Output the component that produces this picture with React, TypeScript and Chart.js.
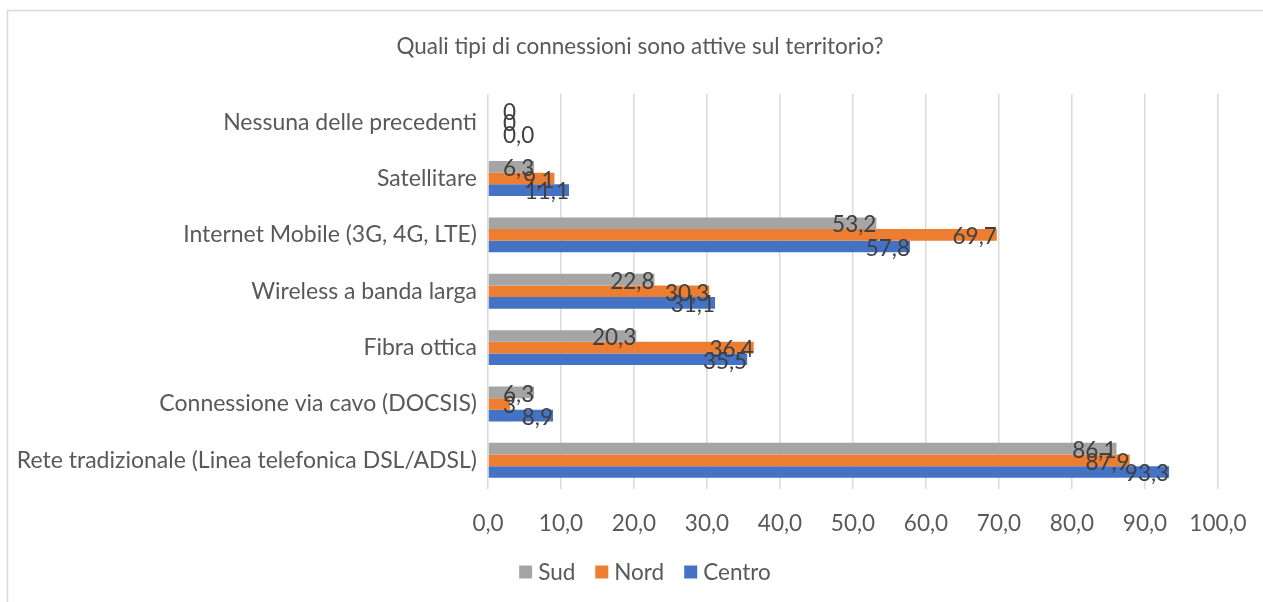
import React, { useEffect, useRef } from "react";
import { Chart, registerables } from "chart.js";

Chart.register(...registerables);

const categories = [
  "Nessuna delle precedenti",
  "Satellitare",
  "Internet Mobile (3G, 4G, LTE)",
  "Wireless a banda larga",
  "Fibra ottica",
  "Connessione via cavo (DOCSIS)",
  "Rete tradizionale (Linea telefonica DSL/ADSL)",
];

const sudValues = [0, 6.3, 53.2, 22.8, 20.3, 6.3, 86.1];
const nordValues = [0, 9.1, 69.7, 30.3, 36.4, 3, 87.9];
const centroValues = [0, 11.1, 57.8, 31.1, 35.5, 8.9, 93.3];

const sudLabels = ["0", "6,3", "53,2", "22,8", "20,3", "6,3", "86,1"];
const nordLabels = ["0", "9,1", "69,7", "30,3", "36,4", "3", "87,9"];
const centroLabels = ["0,0", "11,1", "57,8", "31,1", "35,5", "8,9", "93,3"];

const xTicks = [0, 10, 20, 30, 40, 50, 60, 70, 80, 90, 100];

const TITLE = "Quali tipi di connessioni sono attive sul territorio?";

const FONT = "Lato";
const FS = 22.5;

const labelPlugin = {
  id: "valueLabels",
  afterDatasetsDraw(chart: any) {
    const ctx = chart.ctx;
    const base = chart.scales.x.getPixelForValue(0);
    ctx.save();
    ctx.font = `${FS}px ${FONT}`;
    ctx.fillStyle = "#404040";
    ctx.textAlign = "right";
    ctx.textBaseline = "middle";
    chart.data.datasets.forEach((ds: any, di: number) => {
      const meta = chart.getDatasetMeta(di);
      meta.data.forEach((bar: any, i: number) => {
        const txt = ds.valueLabels[i];
        const w = ctx.measureText(txt).width;
        const x = Math.max(bar.x, base + 15 + w);
        ctx.fillText(txt, x, bar.y + 2);
      });
    });
    ctx.restore();
  },
};

const framePlugin = {
  id: "frameTitleLegend",
  beforeDraw(chart: any) {
    const ctx = chart.ctx;
    ctx.save();
    ctx.strokeStyle = "#D9D9D9";
    ctx.lineWidth = 1.5;
    ctx.beginPath();
    ctx.moveTo(7.5, chart.height + 5);
    ctx.lineTo(7.5, 10.5);
    ctx.lineTo(chart.width + 5, 10.5);
    ctx.stroke();
    ctx.restore();
  },
  afterDraw(chart: any) {
    const ctx = chart.ctx;
    ctx.save();
    ctx.font = `${FS}px ${FONT}`;
    ctx.fillStyle = "#595959";
    ctx.textBaseline = "middle";
    ctx.textAlign = "center";
    ctx.fillText(TITLE, 640, 47);

    // legend
    const box = 13;
    const gapText = 6;
    const gapItem = 20;
    const items = chart.data.datasets.map((ds: any) => ({
      label: ds.label,
      color: ds.backgroundColor,
      w: ctx.measureText(ds.label).width,
    }));
    const total =
      items.reduce((s: number, it: any) => s + box + gapText + it.w, 0) +
      gapItem * (items.length - 1);
    let x = 645 - total / 2;
    const cy = 572;
    ctx.textAlign = "left";
    items.forEach((it: any) => {
      ctx.fillStyle = it.color;
      ctx.fillRect(x, cy - box / 2, box, box);
      ctx.fillStyle = "#595959";
      ctx.fillText(it.label, x + box + gapText, cy + 1);
      x += box + gapText + it.w + gapItem;
    });
    ctx.restore();
  },
};

export default function App() {
  const ref = useRef<HTMLCanvasElement | null>(null);

  useEffect(() => {
    document.body.style.margin = "0";
    const canvas = ref.current;
    if (!canvas) return;
    const chart = new Chart(canvas, {
      type: "bar",
      data: {
        labels: categories,
        datasets: [
          { label: "Sud", data: sudValues, backgroundColor: "#A5A5A5", valueLabels: sudLabels } as any,
          { label: "Nord", data: nordValues, backgroundColor: "#ED7D31", valueLabels: nordLabels } as any,
          { label: "Centro", data: centroValues, backgroundColor: "#4472C4", valueLabels: centroLabels } as any,
        ],
      },
      options: {
        indexAxis: "y",
        animation: false,
        responsive: false,
        maintainAspectRatio: false,
        layout: { padding: { left: 0, right: 45, top: 94, bottom: 43.5 } },
        datasets: {
          bar: { barPercentage: 1, categoryPercentage: 0.62 },
        },
        scales: {
          x: {
            min: 0,
            max: 100,
            afterBuildTicks(scale: any) {
              scale.ticks = xTicks.map((v) => ({ value: v }));
            },
            afterFit(scale: any) {
              scale.paddingLeft = 0;
              scale.paddingRight = 0;
            },
            ticks: {
              color: "#595959",
              font: { family: FONT, size: FS },
              padding: 21.5,
              maxRotation: 0,
              callback: (v: any) => Number(v).toFixed(1).replace(".", ","),
            },
            grid: { color: "#D9D9D9", lineWidth: 1.5, drawTicks: false },
            border: { display: false },
          },
          y: {
            afterFit(scale: any) {
              scale.width = 488;
            },
            ticks: {
              color: "#595959",
              font: { family: FONT, size: 23 },
              padding: 11,
            },
            grid: { display: false, drawTicks: false },
            border: { display: false },
          },
        },
        plugins: {
          title: { display: false },
          legend: { display: false },
          tooltip: { enabled: false },
        },
      },
      plugins: [labelPlugin, framePlugin],
    } as any);
    return () => chart.destroy();
  }, []);

  return (
    <div style={{ width: 1263, height: 602 }}>
      <canvas ref={ref} width={1263} height={602} style={{ display: "block" }} />
    </div>
  );
}
